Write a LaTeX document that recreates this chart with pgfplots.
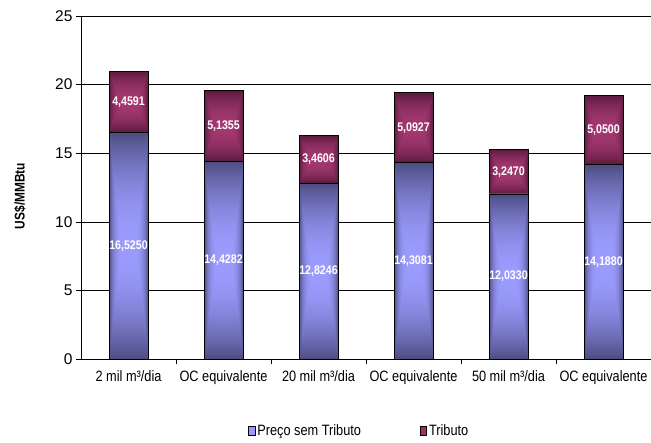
\documentclass[border=0pt]{standalone}
\usepackage{pgfplots}
\pgfplotsset{compat=1.18}
\usepackage{pgfplotstable}
\usepackage{fontspec}
\setmainfont[FakeStretch=0.85]{Liberation Sans}
\newfontfamily\tickfont{Liberation Sans}

\definecolor{precofill}{HTML}{9999FF}
\definecolor{tribfill}{HTML}{993366}

% rectangular centre gradients: light in the middle, darker toward every edge
\pgfdeclarefunctionalshading{precoshade}{\pgfpoint{-50bp}{-50bp}}{\pgfpoint{50bp}{50bp}}{}{
  abs 25 div dup mul
  exch abs 25 div dup mul dup mul
  2 copy lt {exch} if pop
  dup 1 gt {pop 1} if
  dup -0.31 mul 0.61 add
  exch dup -0.31 mul 0.61 add
  exch -0.49 mul 1.0 add
}
\pgfdeclarefunctionalshading{tribshade}{\pgfpoint{-50bp}{-50bp}}{\pgfpoint{50bp}{50bp}}{}{
  abs 25 div dup mul
  exch abs 25 div dup mul dup mul
  2 copy lt {exch} if pop
  dup 1 gt {pop 1} if
  dup -0.28 mul 0.64 add
  exch dup -0.12 mul 0.22 add
  exch -0.20 mul 0.44 add
}

\pgfplotstableread{
x base tax
0 16.5250 4.4591
1 14.4282 5.1355
2 12.8246 3.4606
3 14.3081 5.0927
4 12.0330 3.2470
5 14.1880 5.0500
}\precos

% one shaded face per segment, sized from the segment's own value
% (1 unit = 343bp/25 = 13.72bp)
\pgfplotsset{
  segment face/.style={
    nodes near coords={\pgfmathprintnumber[fixed, fixed zerofill, precision=4, use comma, assume math mode=true]{\pgfplotspointmeta}},
    visualization depends on={rawy \as \seg},
    every node near coord/.append style={anchor=center, shape=rectangle,
      minimum width=39bp, minimum height=13.72bp*\seg,
      inner sep=0pt, outer sep=0pt, draw=black, line width=0.8bp,
      shade, shading=#1,
      text=white, font=\bfseries\fontsize{12.5bp}{14bp}\selectfont},
  },
}

\begin{document}
\begin{tikzpicture}
\begin{axis}[
  scale only axis, width=570bp, height=343bp,
  ybar stacked, bar width=39bp,
  xmin=-0.5, xmax=5.5, ymin=0, ymax=25,
  axis x line*=bottom, axis y line*=left,
  axis line style={-, black, line width=0.8bp},
  xtick={0,...,5},
  xticklabels={2 mil m³/dia, OC equivalente, 20 mil m³/dia, OC equivalente, 50 mil m³/dia, OC equivalente},
  major x tick style={draw=none},
  minor xtick={0.5,1.5,2.5,3.5,4.5},
  ytick={0,5,...,25},
  ymajorgrids, grid style={black, line width=0.6bp},
  tick align=outside, major tick length=5bp, minor tick length=5bp,
  tick style={black, line width=0.6bp},
  /pgf/number format/assume math mode=true,
  yticklabel style={font=\tickfont\fontsize{15.5bp}{18bp}\selectfont},
  xticklabel style={font=\fontsize{15bp}{18bp}\selectfont, yshift=-3bp},
  every axis y label/.style={at={(axis description cs:-0.107,0.475)}, rotate=90, anchor=center},
  ylabel={\bfseries\fontsize{14bp}{16bp}\selectfont US\$/MMBtu},
  legend style={at={(axis description cs:0.293,-0.21)}, anchor=west,
    legend columns=2, draw=none, fill=none, inner sep=0pt,
    font=\fontsize{15bp}{18bp}\selectfont,
    /tikz/every even column/.append style={column sep=57bp}},
  point meta=explicit,
]
\addplot[draw=black, fill=precofill, line width=0.8bp, segment face=precoshade,
  legend image code/.code={\draw[fill=precofill, draw=black, line width=0.6bp] (0bp,-4.5bp) rectangle (6.5bp,4.5bp);}]
  table[x=x, y=base, meta=base] {\precos};
\addlegendentry{Preço sem Tributo}
\addplot[draw=black, fill=tribfill, line width=0.8bp, segment face=tribshade,
  legend image code/.code={\draw[fill=tribfill, draw=black, line width=0.6bp] (0bp,-4.5bp) rectangle (6.5bp,4.5bp);}]
  table[x=x, y=tax, meta=tax] {\precos};
\addlegendentry{Tributo}
\coordinate (ll) at (rel axis cs:0,0);
\coordinate (ur) at (rel axis cs:1,1);
\end{axis}
\pgfresetboundingbox
\path ([shift={(-81bp,-83bp)}]ll) rectangle ([shift={(0bp,16bp)}]ur);
\end{tikzpicture}
\end{document}
